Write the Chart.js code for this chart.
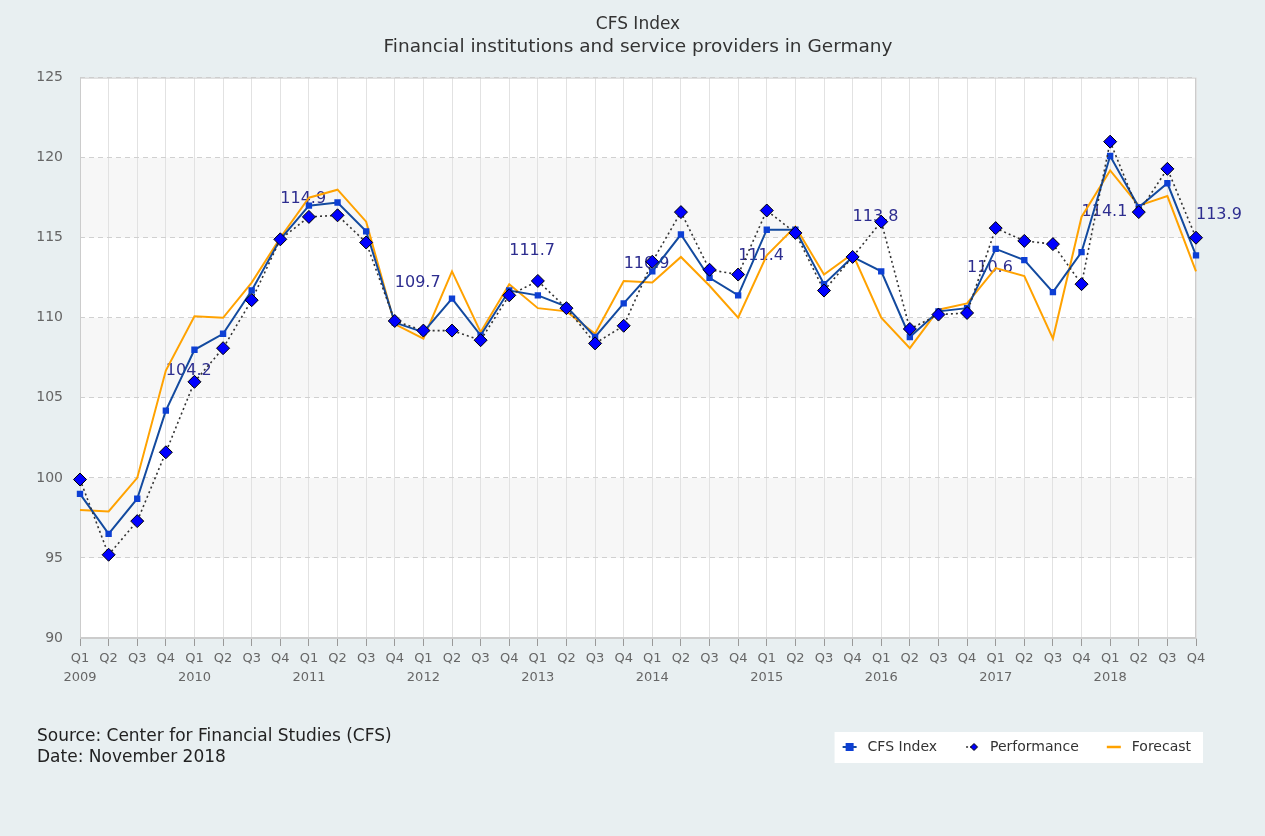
<!DOCTYPE html>
<html>
<head>
<meta charset="utf-8">
<title>CFS Index</title>
<script src="https://cdn.jsdelivr.net/npm/chart.js@4.4.1/dist/chart.umd.min.js"></script>
<style>
  html, body { margin: 0; padding: 0; background: #e8eff1; }
  #wrap { width: 1265px; height: 836px; }
</style>
</head>
<body>
<div id="wrap"><canvas id="chart" width="1265" height="836"></canvas></div>
<script>
// Data
const years = [2009, 2010, 2011, 2012, 2013, 2014, 2015, 2016, 2017, 2018];
const quarters = ["Q1", "Q2", "Q3", "Q4"];

const cfsIndex = [
  99.0, 96.5, 98.7, 104.2, 108.0, 109.0, 111.7, 114.9, 117.0, 117.2,
  115.4, 109.7, 109.1, 111.2, 108.9, 111.7, 111.4, 110.7, 108.8, 110.9,
  112.9, 115.2, 112.5, 111.4, 115.5, 115.5, 112.1, 113.8, 112.9, 108.8,
  110.4, 110.6, 114.3, 113.6, 111.6, 114.1, 120.1, 116.9, 118.4, 113.9
];
const performance = [
  99.9, 95.2, 97.3, 101.6, 106.0, 108.1, 111.1, 114.9, 116.3, 116.4,
  114.7, 109.8, 109.2, 109.2, 108.6, 111.4, 112.3, 110.6, 108.4, 109.5,
  113.5, 116.6, 113.0, 112.7, 116.7, 115.3, 111.7, 113.8, 116.0, 109.3,
  110.2, 110.3, 115.6, 114.8, 114.6, 112.1, 121.0, 116.6, 119.3, 115.0
];
const forecast = [
  98.0, 97.9, 100.0, 106.7, 110.1, 110.0, 112.2, 115.0, 117.5, 118.0,
  116.0, 109.6, 108.7, 112.9, 109.1, 112.1, 110.6, 110.4, 109.0, 112.3,
  112.2, 113.8, 112.0, 110.0, 113.9, 115.7, 112.7, 114.0, 110.0, 108.1,
  110.5, 110.9, 113.1, 112.6, 108.7, 116.3, 119.2, 117.0, 117.6, 112.9
];
const yTicks = [90, 95, 100, 105, 110, 115, 120, 125];

const titleText = "CFS Index";
const subtitleText = "Financial institutions and service providers in Germany";
const sourceLines = ["Source: Center for Financial Studies (CFS)", "Date: November 2018"];

const FONT = "'DejaVu Sans', Verdana, sans-serif";

// x labels: quarter, plus year under every Q1
const labels = [];
years.forEach(y => {
  quarters.forEach(q => labels.push(q === "Q1" ? [q, String(y)] : q));
});

// small legend icons (line + marker)
function makeIcon(draw) {
  const c = document.createElement("canvas");
  c.width = 16;
  c.height = 12;
  draw(c.getContext("2d"));
  return c;
}
const legendIcons = [
  makeIcon(ctx => {
    ctx.strokeStyle = "#134a9f";
    ctx.lineWidth = 2;
    ctx.beginPath(); ctx.moveTo(1, 6); ctx.lineTo(15, 6); ctx.stroke();
    ctx.fillStyle = "#0d3fd4";
    ctx.fillRect(4, 2, 8, 8);
  }),
  makeIcon(ctx => {
    ctx.strokeStyle = "#333";
    ctx.lineWidth = 1.5;
    ctx.setLineDash([2, 2]);
    ctx.beginPath(); ctx.moveTo(2, 6); ctx.lineTo(14, 6); ctx.stroke();
    ctx.setLineDash([]);
    ctx.fillStyle = "#0000ff";
    ctx.strokeStyle = "#000";
    ctx.lineWidth = 1;
    ctx.beginPath();
    ctx.moveTo(10, 2.5); ctx.lineTo(13.5, 6); ctx.lineTo(10, 9.5); ctx.lineTo(6.5, 6); ctx.closePath();
    ctx.fill(); ctx.stroke();
  }),
  makeIcon(ctx => {
    ctx.strokeStyle = "#ffa200";
    ctx.lineWidth = 2.5;
    ctx.beginPath(); ctx.moveTo(1, 6); ctx.lineTo(15, 6); ctx.stroke();
  })
];

// background, alternating bands, legend box, source note
const decorations = {
  id: "decorations",
  beforeDraw(chart) {
    const { ctx, chartArea: a, scales: { y } } = chart;
    ctx.save();
    ctx.fillStyle = "#e8eff1";
    ctx.fillRect(0, 0, chart.width, chart.height);

    ctx.fillStyle = "#ffffff";
    ctx.fillRect(a.left, a.top, a.right - a.left, a.bottom - a.top);
    ctx.fillStyle = "#f7f7f7";
    for (let i = 0; i < yTicks.length - 1; i++) {
      if (i % 2 === 1) {
        const top = y.getPixelForValue(yTicks[i + 1]);
        const bottom = y.getPixelForValue(yTicks[i]);
        ctx.fillRect(a.left, top, a.right - a.left, bottom - top);
      }
    }

    // white box behind legend
    const boxes = chart.legend.legendHitBoxes;
    if (boxes && boxes.length) {
      const left = Math.min(...boxes.map(b => b.left)) - 4;
      const right = Math.max(...boxes.map(b => b.left + b.width)) + 12;
      const top = boxes[0].top - 8;
      const h = boxes[0].height + 17;
      ctx.fillStyle = "#ffffff";
      ctx.fillRect(left, top, right - left, h);
    }

    ctx.fillStyle = "#222";
    ctx.font = "17px " + FONT;
    ctx.textAlign = "left";
    ctx.textBaseline = "middle";
    sourceLines.forEach((line, i) => ctx.fillText(line, 37, 737 + i * 21));
    ctx.restore();
  },
  beforeDatasetsDraw(chart) {
    const { ctx, chartArea: a } = chart;
    ctx.save();
    // plot border
    ctx.strokeStyle = "#cccccc";
    ctx.lineWidth = 1;
    ctx.strokeRect(a.left + 0.5, a.top + 0.5, a.right - a.left - 1, a.bottom - a.top - 1);

    // yearly (Q4) values of the CFS Index
    const meta = chart.getDatasetMeta(0);
    ctx.fillStyle = "#2d2d8f";
    ctx.font = "16px " + FONT;
    ctx.textAlign = "left";
    ctx.textBaseline = "middle";
    cfsIndex.forEach((v, i) => {
      if (i % 4 !== 3) return;
      const pt = meta.data[i];
      ctx.fillText(v.toFixed(1), pt.x, pt.y - 40);
    });
    ctx.restore();
  }
};

new Chart(document.getElementById("chart"), {
  type: "line",
  data: {
    labels: labels,
    datasets: [
      {
        label: "CFS Index",
        data: cfsIndex,
        borderColor: "#134a9f",
        borderWidth: 2,
        pointStyle: "rect",
        pointRadius: 4.5,
        pointBackgroundColor: "#0d3fd4",
        pointBorderColor: "#0d3fd4",
        pointBorderWidth: 0,
        tension: 0,
        order: 1
      },
      {
        label: "Performance",
        data: performance,
        borderColor: "#333333",
        borderWidth: 1.6,
        borderDash: [2, 3],
        pointStyle: "rectRot",
        pointRadius: 6.5,
        pointBackgroundColor: "#0000ff",
        pointBorderColor: "#000000",
        pointBorderWidth: 1,
        tension: 0,
        clip: false,
        order: 0
      },
      {
        label: "Forecast",
        data: forecast,
        borderColor: "#ffa200",
        borderWidth: 2,
        pointRadius: 0,
        tension: 0,
        order: 2
      }
    ]
  },
  options: {
    responsive: false,
    animation: false,
    events: [],
    layout: { padding: { left: 0, right: 50, top: 0, bottom: 72 } },
    plugins: {
      title: {
        display: true,
        fullSize: false,
        text: titleText,
        color: "#333",
        font: { size: 17, weight: "normal", family: FONT, lineHeight: 1.2 },
        padding: { top: 14, bottom: 2 }
      },
      subtitle: {
        display: true,
        fullSize: false,
        text: subtitleText,
        color: "#333",
        font: { size: 18.5, weight: "normal", family: FONT, lineHeight: 1.2 },
        padding: { top: 0, bottom: 19 }
      },
      legend: {
        position: "bottom",
        align: "end",
        labels: {
          usePointStyle: true,
          pointStyleWidth: 22,
          boxWidth: 22,
          boxHeight: 12,
          padding: 24,
          color: "#333",
          font: { size: 14, family: FONT },
          generateLabels(chart) {
            return chart.data.datasets.map((ds, i) => ({
              text: ds.label,
              datasetIndex: i,
              pointStyle: legendIcons[i],
              fillStyle: "rgba(0,0,0,0)",
              strokeStyle: "rgba(0,0,0,0)",
              lineWidth: 0,
              fontColor: "#333",
              hidden: false
            }));
          }
        }
      },
      tooltip: { enabled: false }
    },
    scales: {
      x: {
        offset: false,
        grid: { color: "#e2e2e2", lineWidth: 1, drawTicks: true, tickLength: 8, tickColor: "#999" },
        border: { color: "#cccccc" },
        ticks: {
          autoSkip: false,
          maxRotation: 0,
          color: "#666",
          padding: 3,
          font: { size: 13, family: FONT, lineHeight: 1.45 }
        },
        afterFit(scale) {
          scale.height = 78;
          scale.paddingRight = 69;
        }
      },
      y: {
        min: yTicks[0],
        max: yTicks[yTicks.length - 1],
        grid: { color: "#d0d0d0", drawTicks: false },
        border: { display: false, dash: [5, 4] },
        ticks: {
          stepSize: 5,
          color: "#666",
          padding: 17,
          font: { size: 14, family: FONT }
        },
        afterFit(scale) {
          scale.width = 80;
        }
      }
    }
  },
  plugins: [decorations]
});
</script>
</body>
</html>
